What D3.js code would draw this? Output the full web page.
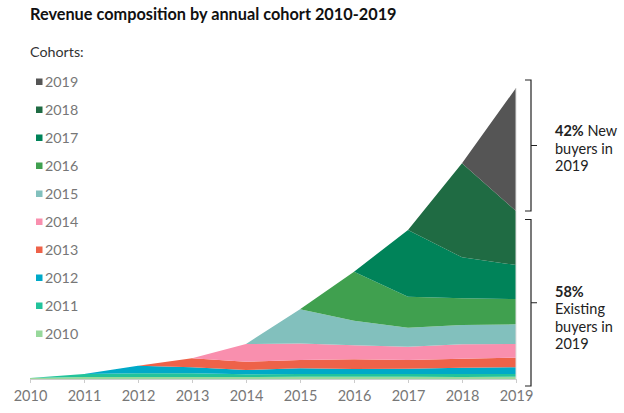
<!DOCTYPE html>
<html>
<head>
<meta charset="utf-8">
<script src="https://cdn.jsdelivr.net/npm/d3@7"></script>
<style>
  html, body { margin: 0; padding: 0; background: #fff; }
  svg { display: block; font-family: Lato, "Open Sans", sans-serif; }
</style>
</head>
<body>
<svg id="chart" width="624" height="413"></svg>
<script>
'use strict';

// years on the x axis
const years = [2010, 2011, 2012, 2013, 2014, 2015, 2016, 2017, 2018, 2019];

// cohorts, oldest first (stack order bottom -> top)
const cohorts = ['2010', '2011', '2012', '2013', '2014', '2015', '2016', '2017', '2018', '2019'];

const cohortColors = ['#98d89b', '#22c39b', '#00a9c8', '#ee6249', '#f98fae',
                      '#82c0bd', '#40a04f', '#008359', '#1f6b43', '#555555'];

// revenue per cohort per year (relative units)
const rev2010 = [1.0, 2.0, 2.0, 2.0, 2.0, 2.3, 2.3, 2.3, 2.0, 2.3];
const rev2011 = [0, 3.0, 3.7, 3.7, 2.7, 2.7, 2.7, 2.7, 3.0, 2.7];
const rev2012 = [0, 0, 7.6, 6.0, 4.3, 5.7, 5.0, 5.3, 6.3, 6.7];
const rev2013 = [0, 0, 0, 9.0, 8.3, 8.3, 9.7, 8.7, 9.0, 9.6];
const rev2014 = [0, 0, 0, 0, 17.7, 16.5, 14.0, 13.3, 14.4, 13.7];
const rev2015 = [0, 0, 0, 0, 0, 34.2, 24.6, 19.0, 19.3, 19.7];
const rev2016 = [0, 0, 0, 0, 0, 0, 49.0, 31.0, 26.7, 25.3];
const rev2017 = [0, 0, 0, 0, 0, 0, 0, 66.7, 41.0, 34.0];
const rev2018 = [0, 0, 0, 0, 0, 0, 0, 0, 94.0, 54.0];
const rev2019 = [0, 0, 0, 0, 0, 0, 0, 0, 0, 123.0];

const series = [rev2010, rev2011, rev2012, rev2013, rev2014,
                rev2015, rev2016, rev2017, rev2018, rev2019];

const svg = d3.select('#chart');

// table for d3.stack
const table = years.map((year, i) => {
    const row = {year: year};
    cohorts.forEach((c, k) => { row[c] = series[k][i]; });
    return row;
});

const stacked = d3.stack().keys(cohorts)(table);

const x = d3.scaleLinear()
    .domain(d3.extent(years))
    .range([30, 516]);

const maxTotal = d3.max(stacked[stacked.length - 1], (d) => d[1]);

const y = d3.scaleLinear()
    .domain([0, maxTotal])
    .range([379, 88]);

// title
svg.append('text')
    .attr('x', 30)
    .attr('y', 20)
    .attr('font-size', 16.3)
    .attr('font-weight', 'bold')
    .attr('fill', '#111')
    .text('Revenue composition by annual cohort 2010-2019');

svg.append('text')
    .attr('x', 30)
    .attr('y', 57)
    .attr('font-size', 14.3)
    .attr('fill', '#333')
    .text('Cohorts:');

// areas
const area = d3.area()
    .x((d) => x(d.data.year))
    .y0((d) => y(d[0]))
    .y1((d) => y(d[1]));

svg.append('g')
    .selectAll('path')
    .data(stacked)
    .enter()
    .append('path')
    .attr('d', area)
    .attr('fill', (d, i) => cohortColors[i]);

// thin edge at the last year
svg.append('line')
    .attr('x1', x(2019)).attr('x2', x(2019))
    .attr('y1', y(0)).attr('y2', y(maxTotal))
    .attr('stroke', '#ddd')
    .attr('stroke-width', 1);

// x axis
const xAxis = d3.axisBottom(x)
    .tickValues(years)
    .tickFormat(d3.format('d'))
    .tickSize(4)
    .tickPadding(8);

const gx = svg.append('g')
    .attr('transform', `translate(0,${y(0)})`)
    .call(xAxis);

gx.select('.domain').attr('stroke', '#ccc');
gx.selectAll('.tick line').attr('stroke', '#ccc');
gx.selectAll('.tick text')
    .attr('font-family', 'Lato, "Open Sans", sans-serif')
    .attr('font-size', 14.5)
    .attr('fill', '#777');

// legend (newest on top)
const legend = svg.append('g')
    .selectAll('g')
    .data(cohorts.slice().reverse())
    .enter()
    .append('g')
    .attr('transform', (d, i) => `translate(36,${82 + i * 28})`);

legend.append('rect')
    .attr('x', 0)
    .attr('y', -3.5)
    .attr('width', 6.5)
    .attr('height', 6.5)
    .attr('fill', (d) => cohortColors[cohorts.indexOf(d)]);

legend.append('text')
    .attr('x', 9)
    .attr('y', 0)
    .attr('dy', '0.35em')
    .attr('font-size', 14.3)
    .attr('fill', '#777')
    .text((d) => d);

// brackets: new vs existing buyers in the last year
const last = years.length - 1;
const existing = stacked[stacked.length - 1][last][0];
const newShare = Math.round(100 * (maxTotal - existing) / maxTotal);
const oldShare = 100 - newShare;

function bracket(top, bottom) {
    const bx = 531;
    const mid = (top + bottom) / 2;
    svg.append('path')
        .attr('d', `M${bx - 6},${top}H${bx}V${bottom}H${bx - 6}M${bx},${mid}H${bx + 6}`)
        .attr('fill', 'none')
        .attr('stroke', '#222')
        .attr('stroke-width', 1.2);
    return mid;
}

const mid1 = bracket(y(maxTotal) - 8, y(existing));
const mid2 = bracket(y(existing) + 8.5, y(0) + 7);

function label(lines, cy) {
    const lh = 17.5;
    const t = svg.append('text')
        .attr('x', 555)
        .attr('font-size', 14.5)
        .attr('fill', '#222');
    lines.forEach((parts, i) => {
        const line = t.append('tspan')
            .attr('x', 555)
            .attr('y', cy + (i - (lines.length - 1) / 2) * lh)
            .attr('dy', '0.35em');
        parts.forEach(([txt, bold], j) => {
            const s = j === 0 ? line : t.append('tspan');
            s.attr('font-weight', bold ? 'bold' : 'normal').text(txt);
        });
    });
}

label([[[newShare + '%', true], [' New', false]], [['buyers in', false]], [['2019', false]]], mid1 + 3);
label([[[oldShare + '%', true]], [['Existing', false]], [['buyers in', false]], [['2019', false]]], mid2 + 15);
</script>
</body>
</html>
